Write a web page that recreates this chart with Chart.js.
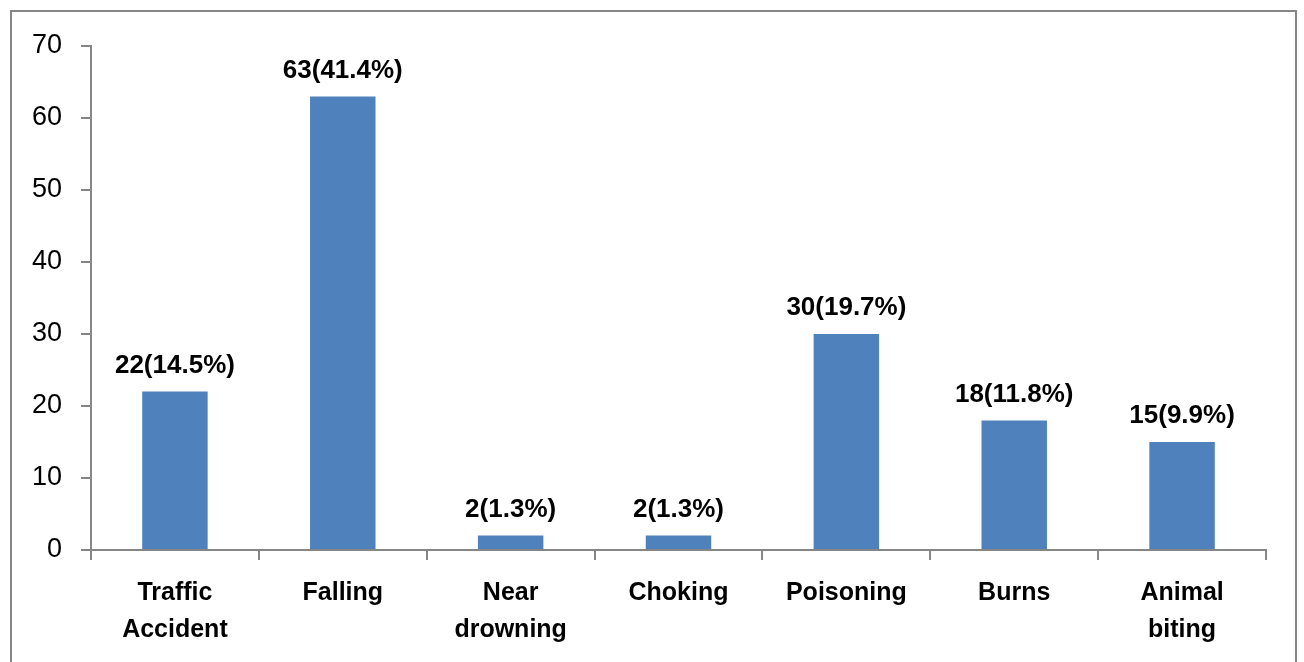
<!DOCTYPE html>
<html>
<head>
<meta charset="utf-8">
<script src="https://cdn.jsdelivr.net/npm/chart.js@4/dist/chart.umd.min.js"></script>
<style>
  html, body { margin: 0; padding: 0; background: #fff; }
  #wrap { position: relative; width: 1304px; height: 662px; }
</style>
</head>
<body>
<div id="wrap"><canvas id="chart" width="1304" height="662"></canvas></div>
<script>
const categories = [["Traffic", "Accident"], "Falling", ["Near", "drowning"], "Choking", "Poisoning", "Burns", ["Animal", "biting"]];
const counts = [22, 63, 2, 2, 30, 18, 15];
const percents = [14.5, 41.4, 1.3, 1.3, 19.7, 11.8, 9.9];
const yTicks = [0, 10, 20, 30, 40, 50, 60, 70];

const axisColor = "#868686";
const fontFamily = "'Liberation Sans', Arial, sans-serif";

// outer frame around the chart
const framePlugin = {
  id: "frame",
  beforeDraw(chart) {
    const ctx = chart.ctx;
    ctx.save();
    ctx.fillStyle = "#fff";
    ctx.fillRect(0, 0, chart.width, chart.height);
    ctx.strokeStyle = axisColor;
    ctx.lineWidth = 2;
    ctx.strokeRect(11, 11, 1285, 700);
    ctx.restore();
  }
};

// value (percent) labels above bars
const labelPlugin = {
  id: "barLabels",
  afterDatasetsDraw(chart) {
    const ctx = chart.ctx;
    const meta = chart.getDatasetMeta(0);
    ctx.save();
    ctx.font = "bold 26px " + fontFamily;
    ctx.fillStyle = "#000";
    ctx.textAlign = "center";
    ctx.textBaseline = "bottom";
    meta.data.forEach(function (bar, i) {
      ctx.fillText(counts[i] + "(" + percents[i] + "%)", bar.x, bar.y - 13);
    });
    ctx.restore();
  }
};

new Chart(document.getElementById("chart"), {
  type: "bar",
  data: {
    labels: categories,
    datasets: [{
      data: counts,
      backgroundColor: "#4F81BD",
      borderWidth: 0,
      barPercentage: 0.39,
      categoryPercentage: 1
    }]
  },
  options: {
    responsive: false,
    animation: false,
    layout: { padding: { top: 46, right: 38, bottom: 0, left: 0 } },
    plugins: {
      legend: { display: false },
      tooltip: { enabled: false }
    },
    scales: {
      x: {
        offset: true,
        grid: { offset: true, drawOnChartArea: false, drawTicks: true, tickLength: 10, color: axisColor, lineWidth: 2 },
        border: { color: axisColor, width: 2 },
        ticks: { color: "#000", font: { family: fontFamily, size: 25, weight: "bold", lineHeight: 1.5 }, padding: 14, maxRotation: 0, autoSkip: false },
        afterFit(scale) { scale.height = 112; }
      },
      y: {
        min: 0,
        max: 70,
        afterBuildTicks(scale) { scale.ticks = yTicks.map(function (v) { return { value: v }; }); },
        grid: { drawOnChartArea: false, drawTicks: true, tickLength: 10, color: axisColor, lineWidth: 2 },
        border: { color: axisColor, width: 2 },
        ticks: { color: "#000", font: { family: fontFamily, size: 27 }, padding: 19 },
        afterFit(scale) { scale.width = 91; }
      }
    }
  },
  plugins: [framePlugin, labelPlugin]
});
</script>
</body>
</html>
